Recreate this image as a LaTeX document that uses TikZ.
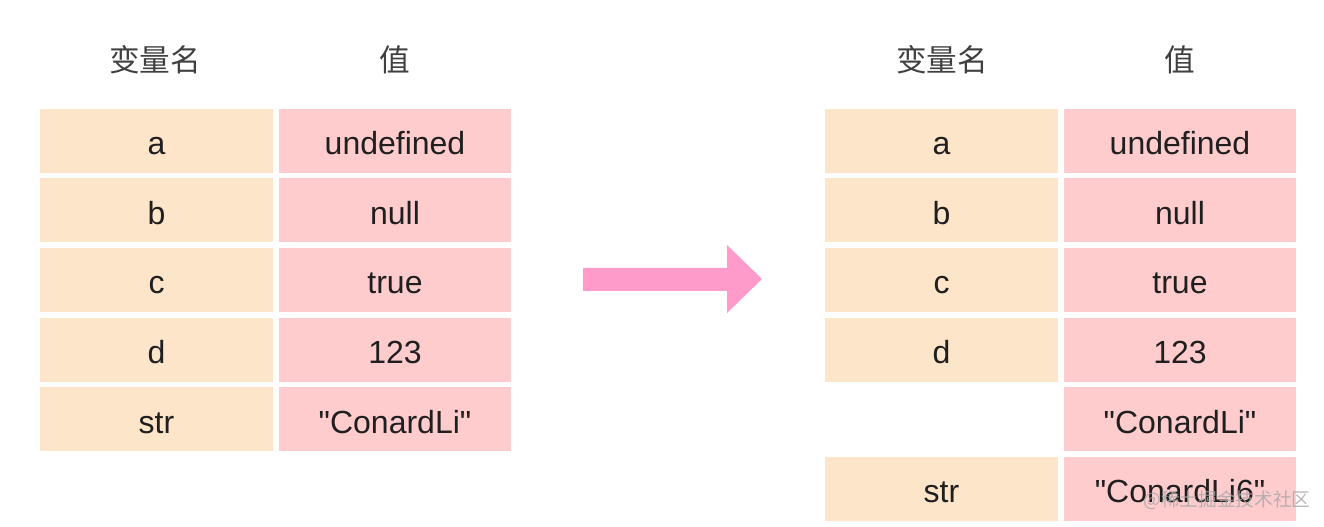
\documentclass[tikz,border=0pt]{standalone}
\usepackage{fontspec}
\setmainfont{Liberation Sans}[Ligatures=TeXOff]
\newfontfamily\cjk{Noto Sans CJK SC}
\definecolor{namebg}{HTML}{FDE5C9}
\definecolor{valbg}{HTML}{FFCCCE}
\definecolor{arrowpink}{HTML}{FF9BCB}
\definecolor{headgray}{HTML}{404040}
\begin{document}
\begin{tikzpicture}[x=0.75pt, y=-0.75pt, font=\fontsize{24}{28}\selectfont,
		namecell/.style={fill=namebg, minimum width=174.75pt, minimum height=48pt, inner sep=0pt, text height=21pt, text depth=0pt, text=black!88},
		valcell/.style={fill=valbg, minimum width=174pt, minimum height=48pt, inner sep=0pt, text height=21pt, text depth=0pt, text=black!88},
		headtext/.style={text=headgray, font=\cjk\fontsize{23}{27}\selectfont}]
	\def\pitch{69.5}\def\ytop{141}
	\useasboundingbox (0,0) rectangle (1324,527);
	% left table
	\node[headtext] (lhname) at (155,60) {变量名};
	\node[headtext] (lhval) at (395,60) {值};
	\foreach \n/\v [count=\i] in {a/undefined, b/null, c/true, d/123, str/"ConardLi"} {
		\node[namecell] (lname\i) at (156.5,{\ytop+\pitch*(\i-1)}) {\n};
		\node[valcell] (lval\i) at (395,{\ytop+\pitch*(\i-1)}) {\v};
	}
	% arrow
	\fill[arrowpink] (583,268) -- (727,268) -- (727,245) -- (762,279) -- (727,313) -- (727,291) -- (583,291) -- cycle;
	% right table
	\node[headtext] (rhname) at (942,60) {变量名};
	\node[headtext] (rhval) at (1180,60) {值};
	\foreach \n/\v [count=\i] in {a/undefined, b/null, c/true, d/123} {
		\node[namecell] (rname\i) at (941.5,{\ytop+\pitch*(\i-1)}) {\n};
		\node[valcell] (rval\i) at (1180,{\ytop+\pitch*(\i-1)}) {\v};
	}
	\node[valcell] (rval5) at (1180,{\ytop+\pitch*4}) {"ConardLi"};
	\node[namecell] (rname6) at (941.5,{\ytop+\pitch*5}) {str};
	\node[valcell] (rval6) at (1180,{\ytop+\pitch*5}) {"ConardLi6"};
	% watermark
	\node[text=gray!70, opacity=0.8, font=\cjk\fontsize{14}{16}\selectfont] (mark) at (1227,500) {@稀土掘金技术社区};
\end{tikzpicture}
\end{document}
